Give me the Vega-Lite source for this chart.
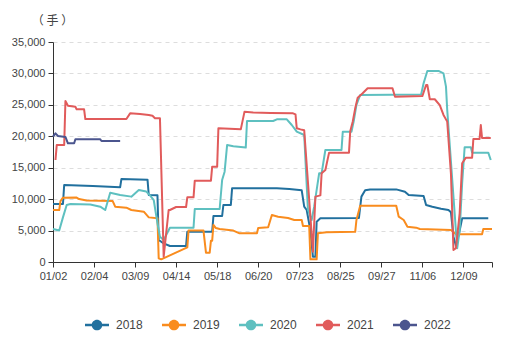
{
  "$schema": "https://vega.github.io/schema/vega-lite/v6.json",
  "width": 439,
  "height": 220,
  "autosize": {"type": "none"},
  "padding": {"left": 53, "top": 42, "right": 15, "bottom": 77},
  "background": "white",
  "config": {"view": {"stroke": null}, "font": "Liberation Sans"},
  "data": {"values": [
    {"year":"2018","i":0,"v":9230},{"year":"2018","i":8,"v":9230},{"year":"2018","i":9,"v":12250},{"year":"2018","i":32,"v":12100},{"year":"2018","i":54,"v":11900},{"year":"2018","i":55,"v":13200},{"year":"2018","i":76,"v":13100},{"year":"2018","i":77,"v":10660},{"year":"2018","i":84,"v":10600},{"year":"2018","i":85,"v":3500},{"year":"2018","i":89,"v":2970},{"year":"2018","i":94,"v":2550},{"year":"2018","i":107,"v":2550},{"year":"2018","i":108,"v":4830},{"year":"2018","i":128,"v":4830},{"year":"2018","i":129,"v":7320},{"year":"2018","i":136,"v":7320},{"year":"2018","i":137,"v":9070},{"year":"2018","i":143,"v":9070},{"year":"2018","i":144,"v":11720},{"year":"2018","i":180,"v":11720},{"year":"2018","i":190,"v":11600},{"year":"2018","i":200,"v":11400},{"year":"2018","i":202,"v":8800},{"year":"2018","i":204,"v":8270},{"year":"2018","i":207,"v":5000},{"year":"2018","i":209,"v":850},{"year":"2018","i":211,"v":850},{"year":"2018","i":212,"v":6420},{"year":"2018","i":215,"v":6950},{"year":"2018","i":246,"v":7000},{"year":"2018","i":248,"v":10400},{"year":"2018","i":251,"v":11400},{"year":"2018","i":255,"v":11550},{"year":"2018","i":276,"v":11550},{"year":"2018","i":283,"v":11190},{"year":"2018","i":286,"v":10660},{"year":"2018","i":298,"v":10500},{"year":"2018","i":300,"v":9070},{"year":"2018","i":305,"v":8800},{"year":"2018","i":312,"v":8480},{"year":"2018","i":318,"v":8270},{"year":"2018","i":320,"v":7900},{"year":"2018","i":322,"v":4030},{"year":"2018","i":324,"v":2600},{"year":"2018","i":327,"v":5000},{"year":"2018","i":329,"v":6950},{"year":"2018","i":350,"v":6950},
    {"year":"2019","i":0,"v":8270},{"year":"2019","i":5,"v":8270},{"year":"2019","i":6,"v":9700},{"year":"2019","i":8,"v":10230},{"year":"2019","i":19,"v":10250},{"year":"2019","i":21,"v":10020},{"year":"2019","i":27,"v":9800},{"year":"2019","i":48,"v":9700},{"year":"2019","i":50,"v":8800},{"year":"2019","i":59,"v":8640},{"year":"2019","i":63,"v":8270},{"year":"2019","i":73,"v":8000},{"year":"2019","i":77,"v":7100},{"year":"2019","i":84,"v":6950},{"year":"2019","i":85,"v":580},{"year":"2019","i":87,"v":420},{"year":"2019","i":108,"v":2330},{"year":"2019","i":109,"v":5000},{"year":"2019","i":121,"v":5000},{"year":"2019","i":123,"v":1480},{"year":"2019","i":126,"v":1480},{"year":"2019","i":127,"v":3400},{"year":"2019","i":128,"v":3400},{"year":"2019","i":129,"v":5890},{"year":"2019","i":131,"v":5400},{"year":"2019","i":134,"v":5250},{"year":"2019","i":145,"v":5000},{"year":"2019","i":150,"v":4560},{"year":"2019","i":164,"v":4560},{"year":"2019","i":165,"v":5400},{"year":"2019","i":173,"v":5520},{"year":"2019","i":176,"v":7480},{"year":"2019","i":181,"v":7210},{"year":"2019","i":189,"v":7000},{"year":"2019","i":194,"v":6680},{"year":"2019","i":200,"v":6680},{"year":"2019","i":201,"v":5730},{"year":"2019","i":206,"v":5730},{"year":"2019","i":207,"v":420},{"year":"2019","i":212,"v":420},{"year":"2019","i":213,"v":4560},{"year":"2019","i":220,"v":4720},{"year":"2019","i":243,"v":4800},{"year":"2019","i":244,"v":6680},{"year":"2019","i":247,"v":8960},{"year":"2019","i":276,"v":8960},{"year":"2019","i":278,"v":7210},{"year":"2019","i":282,"v":6680},{"year":"2019","i":285,"v":5620},{"year":"2019","i":292,"v":5460},{"year":"2019","i":295,"v":5250},{"year":"2019","i":320,"v":5090},{"year":"2019","i":324,"v":4400},{"year":"2019","i":345,"v":4400},{"year":"2019","i":346,"v":5250},{"year":"2019","i":353,"v":5250},
    {"year":"2020","i":0,"v":5250},{"year":"2020","i":5,"v":5000},{"year":"2020","i":8,"v":7100},{"year":"2020","i":11,"v":9070},{"year":"2020","i":14,"v":9230},{"year":"2020","i":30,"v":9150},{"year":"2020","i":38,"v":8800},{"year":"2020","i":42,"v":8270},{"year":"2020","i":46,"v":11030},{"year":"2020","i":54,"v":10660},{"year":"2020","i":63,"v":10400},{"year":"2020","i":69,"v":11450},{"year":"2020","i":75,"v":11200},{"year":"2020","i":78,"v":10600},{"year":"2020","i":81,"v":9860},{"year":"2020","i":84,"v":6150},{"year":"2020","i":86,"v":4030},{"year":"2020","i":89,"v":3500},{"year":"2020","i":94,"v":5460},{"year":"2020","i":113,"v":5460},{"year":"2020","i":114,"v":8430},{"year":"2020","i":134,"v":8430},{"year":"2020","i":136,"v":13050},{"year":"2020","i":138,"v":14370},{"year":"2020","i":140,"v":18600},{"year":"2020","i":145,"v":18400},{"year":"2020","i":155,"v":18200},{"year":"2020","i":156,"v":22430},{"year":"2020","i":177,"v":22430},{"year":"2020","i":180,"v":22700},{"year":"2020","i":188,"v":22700},{"year":"2020","i":192,"v":21800},{"year":"2020","i":196,"v":20730},{"year":"2020","i":202,"v":20200},{"year":"2020","i":205,"v":8270},{"year":"2020","i":208,"v":6680},{"year":"2020","i":210,"v":8800},{"year":"2020","i":214,"v":14110},{"year":"2020","i":216,"v":14110},{"year":"2020","i":219,"v":17820},{"year":"2020","i":232,"v":17820},{"year":"2020","i":233,"v":20730},{"year":"2020","i":240,"v":20730},{"year":"2020","i":242,"v":22600},{"year":"2020","i":244,"v":25000},{"year":"2020","i":247,"v":26570},{"year":"2020","i":296,"v":26650},{"year":"2020","i":298,"v":28430},{"year":"2020","i":301,"v":30390},{"year":"2020","i":310,"v":30390},{"year":"2020","i":314,"v":30000},{"year":"2020","i":316,"v":27900},{"year":"2020","i":317,"v":24180},{"year":"2020","i":325,"v":2180},{"year":"2020","i":327,"v":5000},{"year":"2020","i":329,"v":12520},{"year":"2020","i":331,"v":18250},{"year":"2020","i":336,"v":18250},{"year":"2020","i":337,"v":17400},{"year":"2020","i":350,"v":17400},{"year":"2020","i":352,"v":16230},
    {"year":"2021","i":2,"v":16230},{"year":"2021","i":3,"v":18600},{"year":"2021","i":9,"v":18600},{"year":"2021","i":10,"v":25600},{"year":"2021","i":12,"v":24870},{"year":"2021","i":18,"v":24700},{"year":"2021","i":19,"v":24290},{"year":"2021","i":25,"v":24290},{"year":"2021","i":26,"v":22750},{"year":"2021","i":59,"v":22750},{"year":"2021","i":62,"v":23650},{"year":"2021","i":70,"v":23550},{"year":"2021","i":77,"v":23400},{"year":"2021","i":80,"v":23270},{"year":"2021","i":82,"v":22860},{"year":"2021","i":86,"v":22860},{"year":"2021","i":89,"v":850},{"year":"2021","i":93,"v":8270},{"year":"2021","i":94,"v":8270},{"year":"2021","i":99,"v":8750},{"year":"2021","i":107,"v":8750},{"year":"2021","i":108,"v":10290},{"year":"2021","i":113,"v":10290},{"year":"2021","i":114,"v":12940},{"year":"2021","i":127,"v":12940},{"year":"2021","i":128,"v":15170},{"year":"2021","i":132,"v":15170},{"year":"2021","i":133,"v":21270},{"year":"2021","i":151,"v":21100},{"year":"2021","i":154,"v":23920},{"year":"2021","i":161,"v":23800},{"year":"2021","i":175,"v":23700},{"year":"2021","i":193,"v":23650},{"year":"2021","i":195,"v":23480},{"year":"2021","i":196,"v":21270},{"year":"2021","i":199,"v":21100},{"year":"2021","i":202,"v":20950},{"year":"2021","i":209,"v":1640},{"year":"2021","i":211,"v":10400},{"year":"2021","i":215,"v":10600},{"year":"2021","i":216,"v":14110},{"year":"2021","i":219,"v":14640},{"year":"2021","i":222,"v":17400},{"year":"2021","i":238,"v":17400},{"year":"2021","i":239,"v":20800},{"year":"2021","i":241,"v":22330},{"year":"2021","i":243,"v":24450},{"year":"2021","i":245,"v":26150},{"year":"2021","i":249,"v":26840},{"year":"2021","i":253,"v":27630},{"year":"2021","i":273,"v":27630},{"year":"2021","i":275,"v":26300},{"year":"2021","i":297,"v":26400},{"year":"2021","i":300,"v":28160},{"year":"2021","i":301,"v":28160},{"year":"2021","i":303,"v":25890},{"year":"2021","i":307,"v":25890},{"year":"2021","i":311,"v":24970},{"year":"2021","i":314,"v":23400},{"year":"2021","i":317,"v":22330},{"year":"2021","i":320,"v":14000},{"year":"2021","i":322,"v":1910},{"year":"2021","i":324,"v":2200},{"year":"2021","i":327,"v":7750},{"year":"2021","i":329,"v":15700},{"year":"2021","i":332,"v":16600},{"year":"2021","i":337,"v":16600},{"year":"2021","i":338,"v":19570},{"year":"2021","i":343,"v":19570},{"year":"2021","i":344,"v":21800},{"year":"2021","i":345,"v":19730},{"year":"2021","i":352,"v":19730},
    {"year":"2022","i":0,"v":19940},{"year":"2022","i":2,"v":20470},{"year":"2022","i":4,"v":20050},{"year":"2022","i":10,"v":19900},{"year":"2022","i":12,"v":18880},{"year":"2022","i":17,"v":18880},{"year":"2022","i":18,"v":19520},{"year":"2022","i":38,"v":19520},{"year":"2022","i":39,"v":19250},{"year":"2022","i":54,"v":19250}
  ]},
  "mark": {"type": "line", "strokeWidth": 2, "strokeJoin": "round"},
  "encoding": {
    "x": {
      "field": "i", "type": "quantitative",
      "scale": {"domain": [0, 353], "nice": false, "zero": false},
      "axis": {
        "title": null, "grid": false,
        "values": [0, 33, 66, 99, 132, 165, 198, 231, 264, 297, 330, 353],
        "labelExpr": "['01/02','02/04','03/09','04/14','05/18','06/20','07/23','08/25','09/27','11/06','12/09',''][round(datum.value/33)]",
        "labelFlush": false, "labelOverlap": false, "labelFontSize": 11, "labelColor": "#444444",
        "labelPadding": 3, "tickSize": 5, "tickColor": "#333333", "domainColor": "#333333"
      }
    },
    "y": {
      "field": "v", "type": "quantitative",
      "scale": {"domain": [0, 35000], "nice": false},
      "axis": {
        "values": [0, 5000, 10000, 15000, 20000, 25000, 30000, 35000], "format": ",.0f",
        "title": "（ 手 ）", "titleAngle": 0, "titleX": -1, "titleY": -18, "titleAlign": "center", "titleBaseline": "alphabetic",
        "titleFont": "Noto Sans CJK SC", "titleFontSize": 12, "titleFontWeight": "normal", "titleColor": "#444444",
        "labelFontSize": 11, "labelColor": "#444444", "labelPadding": 3, "tickSize": 5, "tickColor": "#333333", "domainColor": "#333333",
        "gridColor": "#dddddd", "gridDash": [4, 4]
      }
    },
    "color": {
      "field": "year", "type": "nominal",
      "scale": {"domain": ["2018", "2019", "2020", "2021", "2022"], "range": ["#21709e", "#f98c1e", "#5ec0c0", "#e15b5b", "#4b558e"]},
      "legend": {
        "orient": "none", "direction": "horizontal", "legendX": 38, "legendY": 277, "title": null, "padding": 0,
        "symbolType": "M-2.4,-0.26L2.4,-0.26L2.4,0.26L-2.4,0.26Z M1.06,0A1.06,1.06 0 1,1 -1.06,0A1.06,1.06 0 1,1 1.06,0Z",
        "symbolSize": 100, "symbolStrokeWidth": 0, "labelOffset": 13, "columnPadding": 19,
        "labelFontSize": 12, "labelColor": "#444444",
        "encode": {"symbols": {"update": {"fill": {"scale": "color", "field": "value"}, "opacity": {"value": 1}}}}
      }
    }
  }
}
